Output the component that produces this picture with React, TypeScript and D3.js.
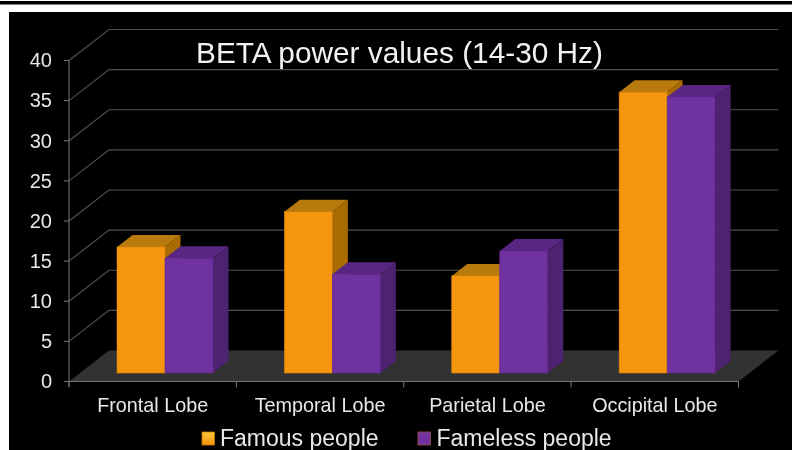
import React from "react";
import * as d3 from "d3";

const categories = ["Frontal Lobe", "Temporal Lobe", "Parietal Lobe", "Occipital Lobe"];
const famous = [15.7, 20.1, 12.1, 35];
const fameless = [14.3, 12.3, 15.2, 34.4];
const ticks = [0, 5, 10, 15, 20, 25, 30, 35, 40];
const title = "BETA power values (14-30 Hz)";
const legend = ["Famous people", "Fameless people"];

const ORANGE = "#F6960E", ORANGE_TOP = "#B97A08", ORANGE_SIDE = "#A86C06";
const PURPLE = "#7030A0", PURPLE_TOP = "#5A2683", PURPLE_SIDE = "#4D2270";
const FONT = "'Liberation Sans', Arial, sans-serif";
const TEXT = "#E8E8E8";

export default function App() {
  const y = d3.scaleLinear().domain([0, 40]).range([381.5, 60.5]);
  const x = d3.scaleBand<string>().domain(categories).range([69, 738.5]);
  const depth = { dx: 40, dy: -31 };
  const barD = { dx: 15.5, dy: -12 };
  const inset = -8.5;
  const bw = 48;
  const gap = 48;
  const xl = 69, xr = 738.5;

  const bar = (cx: number, v: number, front: string, top: string, side: string, edge: string, key: string) => {
    const y0 = y(0) + inset;
    const yt = y(v) + inset;
    const r = cx + bw;
    return (
      <g key={key}>
        <polygon points={`${cx},${yt} ${cx + barD.dx},${yt + barD.dy} ${r + barD.dx},${yt + barD.dy} ${r},${yt}`} fill={top} />
        <polygon points={`${r},${yt} ${r + barD.dx},${yt + barD.dy} ${r + barD.dx},${y0 + barD.dy} ${r},${y0}`} fill={side} />
        <rect x={cx} y={yt} width={bw} height={y0 - yt} fill={front} stroke={edge} strokeWidth={0.6} />
      </g>
    );
  };

  return (
    <svg width={792} height={450} style={{ position: "absolute", left: 0, top: 0, display: "block" }}>
      <defs>
        <filter id="soft" x="-5%" y="-5%" width="110%" height="110%">
          <feGaussianBlur stdDeviation="0.45" />
        </filter>
        <linearGradient id="lg1" x1="0" y1="0" x2="0" y2="1">
          <stop offset="0" stopColor="#FFC93C" />
          <stop offset="1" stopColor="#F39208" />
        </linearGradient>
      </defs>
      <rect width={792} height={450} fill="#fff" />
      <rect x={0} y={1} width={792} height={3.5} fill="#000" />
      <rect x={9} y={12} width={783} height={438} fill="#000" />
      <g filter="url(#soft)">
        <polygon
          points={`${xl},${y(0)} ${xl + depth.dx},${y(0) + depth.dy} ${xr + depth.dx},${y(0) + depth.dy} ${xr},${y(0)}`}
          fill="#323232"
        />
        {ticks.slice(1).map((t) => (
          <polyline
            key={t}
            points={`${xl},${y(t)} ${xl + depth.dx},${y(t) + depth.dy} ${xr + depth.dx},${y(t) + depth.dy}`}
            fill="none"
            stroke="#505050"
            strokeWidth={1.2}
          />
        ))}
        <line x1={xl} x2={xl} y1={y(40)} y2={y(0) + 5} stroke="#777" strokeWidth={1} />
        <line x1={xl} x2={xr} y1={y(0)} y2={y(0)} stroke="#777" strokeWidth={1.1} />
        {ticks.map((t) => (
          <line key={t} x1={xl - 5} x2={xl} y1={y(t)} y2={y(t)} stroke="#777" strokeWidth={1} />
        ))}
        {[...categories.map((c) => x(c) as number), xr].map((p, i) => (
          <line key={i} x1={p} x2={p} y1={y(0)} y2={y(0) + 6} stroke="#777" strokeWidth={1} />
        ))}
        {categories.map((c, i) => {
          const x0 = (x(c) as number) + gap;
          return (
            <g key={c}>
              {bar(x0, famous[i], ORANGE, ORANGE_TOP, ORANGE_SIDE, "#D9860C", "a")}
              {bar(x0 + bw, fameless[i], PURPLE, PURPLE_TOP, PURPLE_SIDE, "#63298F", "b")}
            </g>
          );
        })}
        <g fontFamily={FONT} fill={TEXT}>
          {ticks.map((t) => (
            <text key={t} x={52} y={y(t) + 6.8} fontSize={20} textAnchor="end">{t}</text>
          ))}
          {categories.map((c) => (
            <text key={c} x={(x(c) as number) + x.bandwidth() / 2} y={412} fontSize={19.8} textAnchor="middle">{c}</text>
          ))}
          <text x={399.5} y={63} fontSize={29.8} textAnchor="middle" fill="#F2F2F2">{title}</text>
          <rect x={202} y={432} width={12.5} height={13} fill="url(#lg1)" stroke="#C87A10" strokeWidth={0.8} />
          <text x={220} y={446} fontSize={23}>{legend[0]}</text>
          <rect x={418} y={432} width={12.5} height={13} fill={PURPLE} stroke="#A0503A" strokeWidth={0.8} />
          <text x={436.5} y={446} fontSize={23}>{legend[1]}</text>
        </g>
      </g>
    </svg>
  );
}
